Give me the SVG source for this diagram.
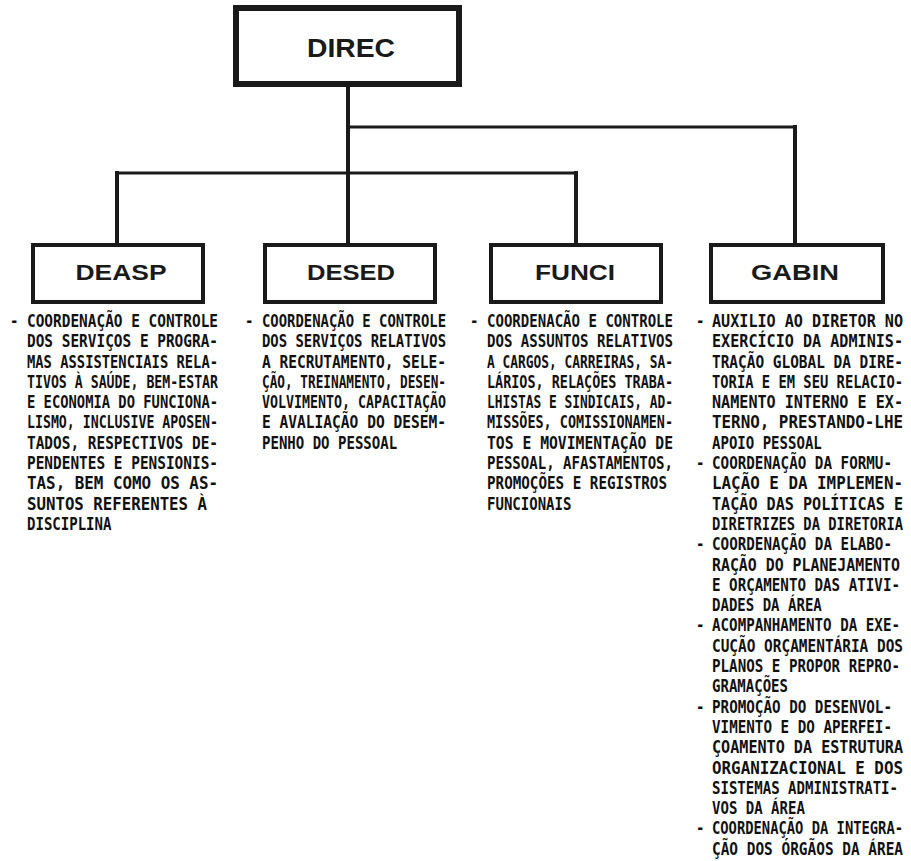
<svg xmlns="http://www.w3.org/2000/svg" width="911" height="861" viewBox="0 0 911 861">
  <style>
    .box { fill: #fff; stroke: #1a1a1a; stroke-width: 4; }
    .top { stroke-width: 6; }
    .lbl { font-family: "Liberation Sans", Arial, sans-serif; font-weight: bold; fill: #1a1a1a; text-anchor: middle; }
    .wire { stroke: #1a1a1a; fill: none; stroke-linecap: square; }
    .v { stroke-width: 4; }
    .h { stroke-width: 3; }
    .txt { font-family: "DejaVu Sans Mono", "Liberation Mono", monospace; font-size: 18px; font-weight: bold; fill: #111; white-space: pre; }
  </style>

  <!-- connectors -->
  <g id="connectors">
    <line class="wire v" x1="348" y1="87" x2="348" y2="244"/>
    <line class="wire h" x1="348" y1="127" x2="795" y2="127"/>
    <line class="wire v" x1="795" y1="127" x2="795" y2="244"/>
    <line class="wire h" x1="117" y1="173" x2="576" y2="173"/>
    <line class="wire v" x1="117" y1="173" x2="117" y2="244"/>
    <line class="wire v" x1="576" y1="173" x2="576" y2="244"/>
  </g>

  <!-- top node -->
  <g id="DIREC">
    <rect class="box top" x="236" y="8" width="223" height="76"/>
    <text class="lbl" x="351" y="57" font-size="25" textLength="88" lengthAdjust="spacingAndGlyphs">DIREC</text>
  </g>

  <!-- subordinate nodes; descriptions use a condensed monospace (scaled 0.78 horizontally) -->
  <g id="DEASP">
    <rect class="box" x="33" y="245" width="170" height="57"/>
    <text class="lbl" x="121" y="280" font-size="22" textLength="91" lengthAdjust="spacingAndGlyphs">DEASP</text>
    <g class="txt" transform="translate(27,0) scale(0.78,1)" xml:space="preserve">
      <text x="-21.8" y="327">-</text>
      <text x="0" y="327" textLength="244.9" lengthAdjust="spacingAndGlyphs">COORDENAÇÃO E CONTROLE</text>
      <text x="0" y="347.3" textLength="244.9" lengthAdjust="spacingAndGlyphs">DOS SERVIÇOS E PROGRA-</text>
      <text x="0" y="367.6" textLength="244.9" lengthAdjust="spacingAndGlyphs">MAS ASSISTENCIAIS RELA-</text>
      <text x="0" y="387.9" textLength="244.9" lengthAdjust="spacingAndGlyphs">TIVOS À SAÚDE, BEM-ESTAR</text>
      <text x="0" y="408.2" textLength="244.9" lengthAdjust="spacingAndGlyphs">E ECONOMIA DO FUNCIONA-</text>
      <text x="0" y="428.5" textLength="244.9" lengthAdjust="spacingAndGlyphs">LISMO, INCLUSIVE APOSEN-</text>
      <text x="0" y="448.8" textLength="244.9" lengthAdjust="spacingAndGlyphs">TADOS, RESPECTIVOS DE-</text>
      <text x="0" y="469.1" textLength="244.9" lengthAdjust="spacingAndGlyphs">PENDENTES E PENSIONIS-</text>
      <text x="0" y="489.4" textLength="244.9" lengthAdjust="spacingAndGlyphs">TAS, BEM COMO  OS AS-</text>
      <text x="0" y="509.7" textLength="230.8" lengthAdjust="spacingAndGlyphs">SUNTOS REFERENTES  À</text>
      <text x="0" y="530">DISCIPLINA</text>
    </g>
  </g>

  <g id="DESED">
    <rect class="box" x="265" y="245" width="170" height="57"/>
    <text class="lbl" x="351" y="280" font-size="22" textLength="88" lengthAdjust="spacingAndGlyphs">DESED</text>
    <g class="txt" transform="translate(262,0) scale(0.78,1)" xml:space="preserve">
      <text x="-21.8" y="327">-</text>
      <text x="0" y="327" textLength="235.9" lengthAdjust="spacingAndGlyphs">COORDENAÇÃO E CONTROLE</text>
      <text x="0" y="347.3" textLength="235.9" lengthAdjust="spacingAndGlyphs">DOS SERVIÇOS RELATIVOS</text>
      <text x="0" y="367.6" textLength="235.9" lengthAdjust="spacingAndGlyphs">A RECRUTAMENTO,  SELE-</text>
      <text x="0" y="387.9" textLength="235.9" lengthAdjust="spacingAndGlyphs">ÇÃO, TREINAMENTO, DESEN-</text>
      <text x="0" y="408.2" textLength="235.9" lengthAdjust="spacingAndGlyphs">VOLVIMENTO, CAPACITAÇÃO</text>
      <text x="0" y="428.5" textLength="235.9" lengthAdjust="spacingAndGlyphs">E AVALIAÇÃO DO DESEM-</text>
      <text x="0" y="448.8">PENHO DO PESSOAL</text>
    </g>
  </g>

  <g id="FUNCI">
    <rect class="box" x="491" y="245" width="170" height="57"/>
    <text class="lbl" x="575" y="280" font-size="22" textLength="80" lengthAdjust="spacingAndGlyphs">FUNCI</text>
    <g class="txt" transform="translate(487,0) scale(0.78,1)" xml:space="preserve">
      <text x="-21.8" y="327">-</text>
      <text x="0" y="327" textLength="238.5" lengthAdjust="spacingAndGlyphs">COORDENACÃO E CONTROLE</text>
      <text x="0" y="347.3" textLength="238.5" lengthAdjust="spacingAndGlyphs">DOS ASSUNTOS RELATIVOS</text>
      <text x="0" y="367.6" textLength="238.5" lengthAdjust="spacingAndGlyphs">A CARGOS, CARREIRAS, SA-</text>
      <text x="0" y="387.9" textLength="238.5" lengthAdjust="spacingAndGlyphs">LÁRIOS, RELAÇÕES TRABA-</text>
      <text x="0" y="408.2" textLength="238.5" lengthAdjust="spacingAndGlyphs">LHISTAS E SINDICAIS, AD-</text>
      <text x="0" y="428.5" textLength="238.5" lengthAdjust="spacingAndGlyphs">MISSÕES, COMISSIONAMEN-</text>
      <text x="0" y="448.8" textLength="238.5" lengthAdjust="spacingAndGlyphs">TOS E MOVIMENTAÇÃO DE</text>
      <text x="0" y="469.1" textLength="238.5" lengthAdjust="spacingAndGlyphs">PESSOAL, AFASTAMENTOS,</text>
      <text x="0" y="489.4" textLength="230.8" lengthAdjust="spacingAndGlyphs">PROMOÇÕES E REGISTROS</text>
      <text x="0" y="509.7">FUNCIONAIS</text>
    </g>
  </g>

  <g id="GABIN">
    <rect class="box" x="711" y="245" width="172" height="57"/>
    <text class="lbl" x="795" y="280" font-size="22" textLength="88" lengthAdjust="spacingAndGlyphs">GABIN</text>
    <g class="txt" transform="translate(712,0) scale(0.78,1)" xml:space="preserve">
      <text x="-20.5" y="327">-</text>
      <text x="0" y="327" textLength="244.9" lengthAdjust="spacingAndGlyphs">AUXILIO AO DIRETOR  NO</text>
      <text x="0" y="347.3" textLength="244.9" lengthAdjust="spacingAndGlyphs">EXERCÍCIO DA  ADMINIS-</text>
      <text x="0" y="367.6" textLength="244.9" lengthAdjust="spacingAndGlyphs">TRAÇÃO GLOBAL DA DIRE-</text>
      <text x="0" y="387.9" textLength="244.9" lengthAdjust="spacingAndGlyphs">TORIA E EM SEU RELACIO-</text>
      <text x="0" y="408.2" textLength="244.9" lengthAdjust="spacingAndGlyphs">NAMENTO INTERNO E EX-</text>
      <text x="0" y="428.5" textLength="244.9" lengthAdjust="spacingAndGlyphs">TERNO,  PRESTANDO-LHE</text>
      <text x="0" y="448.8">APOIO PESSOAL</text>
      <text x="-20.5" y="469.1">-</text>
      <text x="0" y="469.1" textLength="230.8" lengthAdjust="spacingAndGlyphs">COORDENAÇÃO DA FORMU-</text>
      <text x="0" y="489.4" textLength="244.9" lengthAdjust="spacingAndGlyphs">LAÇÃO E DA  IMPLEMEN-</text>
      <text x="0" y="509.7" textLength="244.9" lengthAdjust="spacingAndGlyphs">TAÇÃO DAS POLÍTICAS E</text>
      <text x="0" y="530" textLength="244.9" lengthAdjust="spacingAndGlyphs">DIRETRIZES DA DIRETORIA</text>
      <text x="-20.5" y="550.3">-</text>
      <text x="0" y="550.3" textLength="230.8" lengthAdjust="spacingAndGlyphs">COORDENAÇÃO DA ELABO-</text>
      <text x="0" y="570.6" textLength="241" lengthAdjust="spacingAndGlyphs">RAÇÃO DO PLANEJAMENTO</text>
      <text x="0" y="590.9" textLength="241" lengthAdjust="spacingAndGlyphs">E ORÇAMENTO DAS ATIVI-</text>
      <text x="0" y="611.2">DADES DA ÁREA</text>
      <text x="-20.5" y="631.5">-</text>
      <text x="0" y="631.5" textLength="241" lengthAdjust="spacingAndGlyphs">ACOMPANHAMENTO DA EXE-</text>
      <text x="0" y="651.8" textLength="244.9" lengthAdjust="spacingAndGlyphs">CUÇÃO ORÇAMENTÁRIA DOS</text>
      <text x="0" y="672.1" textLength="241" lengthAdjust="spacingAndGlyphs">PLANOS E PROPOR REPRO-</text>
      <text x="0" y="692.4">GRAMAÇÕES</text>
      <text x="-20.5" y="712.7">-</text>
      <text x="0" y="712.7" textLength="230.8" lengthAdjust="spacingAndGlyphs">PROMOÇÃO DO DESENVOL-</text>
      <text x="0" y="733" textLength="230.8" lengthAdjust="spacingAndGlyphs">VIMENTO E DO APERFEI-</text>
      <text x="0" y="753.3" textLength="244.9" lengthAdjust="spacingAndGlyphs">ÇOAMENTO DA ESTRUTURA</text>
      <text x="0" y="773.6" textLength="244.9" lengthAdjust="spacingAndGlyphs">ORGANIZACIONAL  E  DOS</text>
      <text x="0" y="793.9" textLength="238.5" lengthAdjust="spacingAndGlyphs">SISTEMAS  ADMINISTRATI-</text>
      <text x="0" y="814.2">VOS DA ÁREA</text>
      <text x="-20.5" y="834.5">-</text>
      <text x="0" y="834.5" textLength="244.9" lengthAdjust="spacingAndGlyphs">COORDENAÇÃO DA INTEGRA-</text>
      <text x="0" y="854.8" textLength="244.9" lengthAdjust="spacingAndGlyphs">ÇÃO DOS ÓRGÃOS DA ÁREA</text>
    </g>
  </g>
</svg>
